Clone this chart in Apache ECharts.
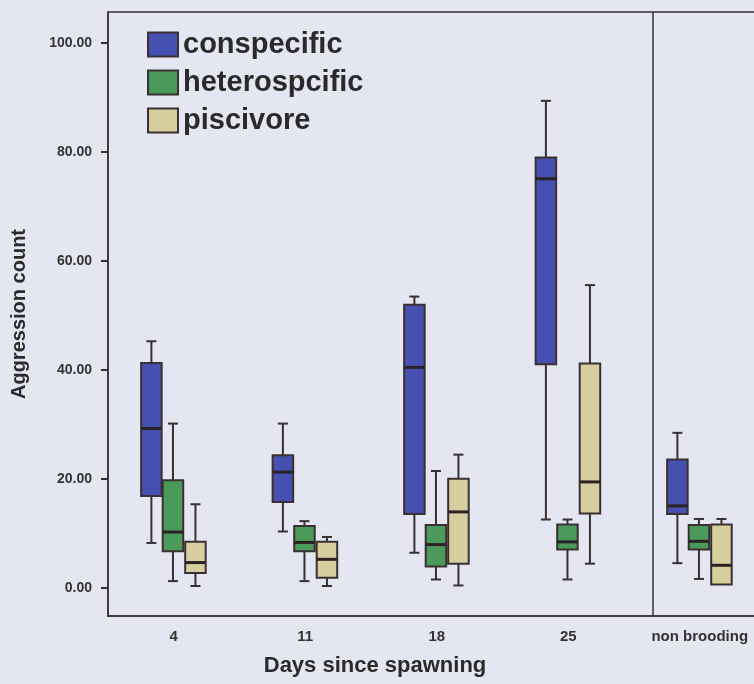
<!DOCTYPE html>
<html>
<head>
<meta charset="utf-8">
<script src="https://cdn.jsdelivr.net/npm/echarts@6/dist/echarts.min.js"></script>
<style>
html,body{margin:0;padding:0;background:#e4e6f2;}
#c{width:754px;height:684px;}
</style>
</head>
<body>
<div id="c"></div>
<script>
// Categories (x axis)
var categories = ['4', '11', '18', '25', 'non brooding'];
// Y tick labels
var yTicks = [0, 20, 40, 60, 80, 100];
// Series names
var seriesNames = ['conspecific', 'heterospcific', 'piscivore'];
// Box values per category: [min, q1, median, q3, max]
var conspecific = [
  [8.3, 16.9, 29.3, 41.3, 45.3],
  [10.4, 15.8, 21.3, 24.4, 30.2],
  [6.5, 13.6, 40.5, 52.0, 53.5],
  [12.6, 41.1, 75.1, 79.0, 89.4],
  [4.6, 13.6, 15.1, 23.6, 28.5]
];
var heterospcific = [
  [1.3, 6.8, 10.3, 19.8, 30.2],
  [1.3, 6.8, 8.4, 11.4, 12.3],
  [1.6, 4.0, 8.0, 11.6, 21.5],
  [1.6, 7.1, 8.5, 11.7, 12.6],
  [1.7, 7.1, 8.6, 11.6, 12.7]
];
var piscivore = [
  [0.4, 2.8, 4.7, 8.5, 15.4],
  [0.4, 1.9, 5.3, 8.5, 9.4],
  [0.5, 4.5, 14.0, 20.1, 24.5],
  [4.5, 13.7, 19.5, 41.2, 55.6],
  [0.7, 0.7, 4.2, 11.7, 12.7]
];
// Separator between brooding and non-brooding groups (in band units)
var separatorPos = 4.144;

var colors = ['#4650b0', '#4b9a5b', '#d6ce9e'];
var edge = '#3a3032';
var offsets = [-0.17, -0.006, 0.165];

function toData(arr) {
  return arr.map(function (d, i) { return [i].concat(d); });
}

function makeRender(offsetFrac, color) {
  return function (params, api) {
    var cat = api.value(0);
    var band = api.size([1, 0])[0];
    var cx = api.coord([cat, 0])[0] + band * offsetFrac;
    var hw = band * 0.078;
    var cw = band * 0.038;
    var yMin = api.coord([cat, api.value(1)])[1];
    var yQ1 = api.coord([cat, api.value(2)])[1];
    var yMed = api.coord([cat, api.value(3)])[1];
    var yQ3 = api.coord([cat, api.value(4)])[1];
    var yMax = api.coord([cat, api.value(5)])[1];
    var ls = { stroke: edge, lineWidth: 2 };
    var children = [];
    if (yMax < yQ3 - 0.5) {
      children.push({ type: 'line', shape: { x1: cx, y1: yQ3, x2: cx, y2: yMax }, style: ls });
      children.push({ type: 'line', shape: { x1: cx - cw, y1: yMax, x2: cx + cw, y2: yMax }, style: ls });
    }
    if (yMin > yQ1 + 0.5) {
      children.push({ type: 'line', shape: { x1: cx, y1: yQ1, x2: cx, y2: yMin }, style: ls });
      children.push({ type: 'line', shape: { x1: cx - cw, y1: yMin, x2: cx + cw, y2: yMin }, style: ls });
    }
    children.push({ type: 'rect', shape: { x: cx - hw, y: yQ3, width: hw * 2, height: yQ1 - yQ3 },
      style: { fill: color, stroke: edge, lineWidth: 2 } });
    children.push({ type: 'line', shape: { x1: cx - hw, y1: yMed, x2: cx + hw, y2: yMed },
      style: { stroke: '#2a2224', lineWidth: 3 } });
    return { type: 'group', children: children };
  };
}

var dataSets = [conspecific, heterospcific, piscivore];
var series = dataSets.map(function (arr, k) {
  return {
    name: seriesNames[k],
    type: 'custom',
    xAxisIndex: 0,
    yAxisIndex: 0,
    itemStyle: { color: colors[k], borderColor: edge, borderWidth: 2 },
    renderItem: makeRender(offsets[k], colors[k]),
    encode: { x: 0, y: [1, 2, 3, 4, 5] },
    data: toData(arr),
    silent: true
  };
});
series.push({
  type: 'line',
  xAxisIndex: 1,
  yAxisIndex: 0,
  data: [],
  silent: true,
  markLine: {
    silent: true,
    symbol: ['none', 'none'],
    label: { show: false },
    lineStyle: { color: edge, width: 1.5, type: 'solid' },
    data: [{ xAxis: separatorPos }]
  }
});

var chart = echarts.init(document.getElementById('c'), null, { renderer: 'canvas' });
chart.setOption({
  backgroundColor: '#e4e6f2',
  animation: false,
  textStyle: { fontFamily: 'Liberation Sans, Arial, sans-serif' },
  title: {
    text: 'Days since spawning',
    left: 370,
    top: 650,
    textAlign: 'center',
    textStyle: { fontSize: 22, fontWeight: 'bold', color: '#2a2a2a', fontFamily: 'Liberation Sans, Arial, sans-serif' }
  },
  legend: {
    data: seriesNames,
    orient: 'vertical',
    left: 147,
    top: 30,
    padding: 0,
    itemWidth: 30,
    itemHeight: 24,
    itemGap: 9,
    icon: 'rect',
    selectedMode: false,
    itemStyle: { borderColor: edge, borderWidth: 2 },
    textStyle: { fontSize: 29, fontWeight: 'bold', color: '#2a2a2a', fontFamily: 'Liberation Sans, Arial, sans-serif' }
  },
  grid: {
    left: 108, top: 12, width: 657.5, bottom: 68,
    outerBoundsMode: 'none',
    show: true, borderColor: edge, borderWidth: 1.5, backgroundColor: 'transparent',
    containLabel: false
  },
  xAxis: [{
    type: 'category',
    data: categories,
    axisLine: { onZero: false, lineStyle: { color: edge, width: 1.5 } },
    axisTick: { alignWithLabel: true, length: 6, lineStyle: { color: edge, width: 2 } },
    axisLabel: { margin: 13, fontSize: 15, fontWeight: 'bold', color: '#333' },
    splitLine: { show: false }
  }, {
    type: 'value',
    min: 0, max: 5,
    show: false
  }],
  yAxis: {
    type: 'value',
    min: -5.1,
    max: 105.7,
    name: 'Aggression count',
    nameLocation: 'middle',
    nameGap: 79,
    nameTextStyle: { fontSize: 20, fontWeight: 'bold', color: '#2a2a2a' },
    axisLine: { show: true, lineStyle: { color: edge, width: 1.5 } },
    axisTick: { show: true, length: 7, customValues: yTicks, lineStyle: { color: edge, width: 2 } },
    axisLabel: {
      customValues: yTicks, margin: 16, fontSize: 14, fontWeight: 'bold', color: '#333',
      formatter: function (v) { return v.toFixed(2); }
    },
    splitLine: { show: false }
  },
  series: series
});
</script>
</body>
</html>
